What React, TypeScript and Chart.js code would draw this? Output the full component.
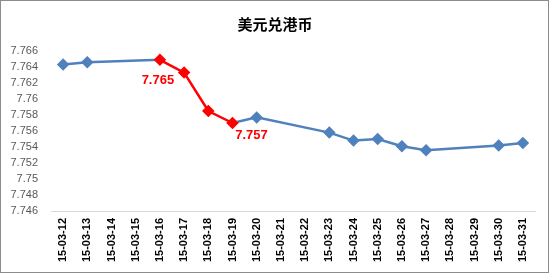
import React, { useEffect, useRef } from "react";
import { Chart, registerables } from "chart.js";

Chart.register(...registerables);

const title = "美元兑港币";
const dates = [
  "15-03-12", "15-03-13", "15-03-14", "15-03-15", "15-03-16", "15-03-17", "15-03-18",
  "15-03-19", "15-03-20", "15-03-21", "15-03-22", "15-03-23", "15-03-24", "15-03-25",
  "15-03-26", "15-03-27", "15-03-28", "15-03-29", "15-03-30", "15-03-31",
];
const rates: (number | null)[] = [
  7.7643, 7.7646, null, null, 7.7649, 7.7633, 7.7585,
  7.7570, 7.7577, null, null, 7.7558, 7.7548, 7.7550,
  7.7541, 7.7536, null, null, 7.7542, 7.7545,
];
// indices of points belonging to highlighted (red) stretch
const highlightStart = 4;
const highlightEnd = 7;
const labelText = ["7.765", "7.757"];
const labelIndex = [4, 7];
const labelOffset = [[-2, 21], [19, 12]];

const yMin = 7.746;
const yMax = 7.766;
const yStep = 0.002;

const BLUE = "#4F81BD";
const RED = "#FF0000";

export default function App() {
  const ref = useRef<HTMLCanvasElement>(null);
  useEffect(() => {
    document.body.style.margin = "0";
    const decor = {
      id: "decor",
      afterDraw(chart: any) {
        const ctx = chart.ctx;
        ctx.save();
        ctx.strokeStyle = "#8C8C8C";
        ctx.lineWidth = 1;
        ctx.strokeRect(0.5, 0.5, 548, 272);
        ctx.fillStyle = "#000";
        ctx.font = "bold 15px 'Noto Sans CJK SC'";
        ctx.textAlign = "center";
        ctx.textBaseline = "middle";
        ctx.fillText(title, 275, 24);
        const meta = chart.getDatasetMeta(0);
        ctx.fillStyle = RED;
        ctx.font = "bold 13px 'Liberation Sans', Arial, sans-serif";
        labelText.forEach((t, i) => {
          const el = meta.data[labelIndex[i]];
          ctx.fillText(t, el.x + labelOffset[i][0], el.y + labelOffset[i][1]);
        });
        ctx.restore();
      },
    };
    const isRed = (i: number) => i >= highlightStart && i <= highlightEnd;
    const chart = new Chart(ref.current!, {
      type: "line",
      data: {
        labels: dates,
        datasets: [
          {
            data: rates,
            spanGaps: true,
            borderWidth: 2.5,
            borderColor: BLUE,
            pointStyle: "rectRot",
            pointRadius: 4.5,
            pointBackgroundColor: rates.map((_, i) => (isRed(i) ? RED : BLUE)),
            pointBorderColor: rates.map((_, i) => (isRed(i) ? RED : BLUE)),
            segment: {
              borderColor: (c: any) =>
                c.p0DataIndex >= highlightStart && c.p0DataIndex < highlightEnd ? RED : BLUE,
            },
          },
        ],
      },
      options: {
        animation: false,
        responsive: false,
        maintainAspectRatio: false,
        layout: { padding: { left: 0, right: 15, top: 51, bottom: 0 } },
        plugins: { legend: { display: false }, title: { display: false }, tooltip: { enabled: false } },
        scales: {
          x: {
            offset: true,
            grid: { display: false, drawTicks: false },
            border: { display: true, color: "#D9D9D9", width: 1 },
            ticks: {
              autoSkip: false,
              maxRotation: 90,
              minRotation: 90,
              padding: 7,
              color: "#000",
              font: { family: "'Liberation Sans', Arial, sans-serif", size: 11, weight: "bold" },
            },
            afterFit: (s: any) => { s.height = 63; },
          },
          y: {
            min: yMin,
            max: yMax,
            grid: { display: false, drawTicks: false },
            border: { display: false },
            ticks: {
              stepSize: yStep,
              autoSkip: false,
              padding: 13,
              color: "#595959",
              font: { family: "'Liberation Sans', Arial, sans-serif", size: 11 },
              callback: (v: any) => String(parseFloat(Number(v).toFixed(3))),
            },
            afterFit: (s: any) => { s.width = 51; },
          },
        },
      },
      plugins: [decor],
    });
    return () => chart.destroy();
  }, []);
  return <canvas ref={ref} width={550} height={274} style={{ display: "block" }} />;
}
